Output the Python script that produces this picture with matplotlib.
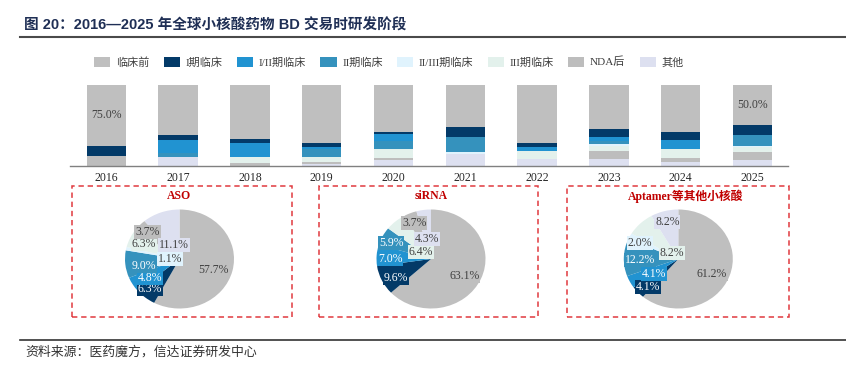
import numpy as np
import matplotlib
matplotlib.use("Agg")
import matplotlib.pyplot as plt
from matplotlib.patches import Rectangle
from matplotlib.lines import Line2D

# ---------------- data ----------------
years = ["2016", "2017", "2018", "2019", "2020", "2021", "2022", "2023", "2024", "2025"]
stages = ["临床前", "I期临床", "I/II期临床", "II期临床", "II/III期临床", "III期临床", "NDA后", "其他"]

preclinical = [75.0, 62.0, 66.9, 71.4, 57.7, 52.5, 72.2, 54.8, 57.7, 50.0]
phase1      = [12.5, 6.2, 5.4, 5.7, 2.9, 11.6, 4.2, 9.9, 10.3, 12.5]
phase1_2    = [0.0, 16.5, 17.3, 2.5, 8.3, 0.0, 5.0, 4.2, 11.2, 0.0]
phase2      = [0.0, 5.0, 0.0, 9.2, 10.3, 18.6, 0.0, 4.1, 0.0, 12.5]
phase2_3    = [0.0, 0.0, 0.0, 0.0, 0.0, 3.2, 0.0, 2.5, 0.0, 1.5]
phase3      = [0.0, 0.0, 7.4, 6.2, 10.8, 0.0, 10.3, 6.8, 10.8, 6.0]
post_nda    = [12.5, 0.0, 3.0, 2.9, 2.9, 0.0, 0.0, 9.0, 5.0, 10.5]
others      = [0.0, 10.3, 0.0, 2.1, 7.1, 14.1, 8.3, 8.7, 5.0, 7.0]
bar_series = [preclinical, phase1, phase1_2, phase2, phase2_3, phase3, post_nda, others]
labeled_years = ["2016", "2025"]

pie_titles = ["ASO", "siRNA", "Aptamer等其他小核酸"]
aso_share     = [57.7, 6.3, 4.8, 9.0, 1.1, 6.3, 3.7, 11.1]
sirna_share   = [63.1, 9.6, 7.0, 5.9, 0.0, 6.4, 3.7, 4.3]
aptamer_share = [61.2, 4.1, 4.1, 12.2, 2.0, 8.2, 0.0, 8.2]
pie_series = [aso_share, sirna_share, aptamer_share]

title = "图 20：2016—2025 年全球小核酸药物 BD 交易时研发阶段"
source = "资料来源：医药魔方，信达证券研发中心"

# ---------------- style ----------------
colors = ["#BFBFBF", "#033A68", "#2193D1", "#3592BD", "#E0F3FD", "#E3F1EC", "#BDBDBD", "#DDE0F0"]
text_on = ["#404040", "white", "white", "white", "#404040", "#404040", "#404040", "#404040"]
SERIF = ["Liberation Serif", "Noto Sans CJK SC"]
SANS = ["Liberation Sans", "Noto Sans CJK SC"]

W, H = 846, 367
fig = plt.figure(figsize=(W / 100, H / 100), dpi=100)


def ax_px(l, t, r, b):
    return fig.add_axes([l / W, 1 - b / H, (r - l) / W, (b - t) / H])


# title and rules
fig.text(24 / W, 1 - 25 / H, title, fontsize=10.5, fontweight="bold", color="#1F2F55",
         family=SANS, va="center", ha="left")
fig.add_artist(Line2D([20 / W, 1], [1 - 37 / H] * 2, color="#4a4a4a", lw=1.5))
fig.add_artist(Line2D([20 / W, 1], [1 - 340 / H] * 2, color="#333333", lw=1.2))
fig.text(25 / W, 1 - 352 / H, source, fontsize=9.3, style="italic", color="#333333",
         family=["Noto Sans CJK SC"], va="center", ha="left")

# ---------------- stacked bars ----------------
ax = ax_px(70.4, 85, 788.3, 165.7)
x = np.arange(len(years))
bottom = np.zeros(len(years))
handles = {}
for i in reversed(range(len(stages))):
    vals = np.array(bar_series[i])
    h = ax.bar(x, vals, width=0.55, bottom=bottom, color=colors[i], linewidth=0, label=stages[i])
    handles[stages[i]] = h
    if i == 0:
        for j, y in enumerate(years):
            if y in labeled_years:
                ax.text(x[j], bottom[j] + vals[j] / 2, f"{vals[j]:.1f}%", ha="center", va="center",
                        fontsize=8.5, color="#404040", family=SERIF)
    bottom += vals
ax.set_xlim(-0.5, len(years) - 0.5)
ax.set_ylim(0, 100)
ax.set_yticks([])
ax.set_xticks(x)
ax.set_xticklabels(years, fontsize=8.5, family=SERIF, color="#262626")
ax.tick_params(axis="x", length=0, pad=4.5)
for s in ["top", "left", "right"]:
    ax.spines[s].set_visible(False)
ax.spines["bottom"].set_color("#808080")
ax.spines["bottom"].set_linewidth(1.0)

leg = fig.legend([handles[s] for s in stages], stages, loc="center", ncol=8,
                 bbox_to_anchor=(389 / W, 1 - 62 / H), frameon=False,
                 prop={"family": SERIF, "size": 8}, handlelength=1.45, handleheight=1.05,
                 handletextpad=0.5, columnspacing=1.3, labelcolor="#404040")

# ---------------- pies ----------------
centers = [(179.5, 259), (431, 259), (678.3, 259)]
boxes = [(71.7, 292.3), (319, 538.3), (567.3, 789.3)]
title_x = [179, 431, 686]
label_offsets = [
    [(34, 11), (-29.5, 30.3), (-29.5, 19.3), (-35.5, 7), (-9.5, 0), (-35.5, -14.7), (-32, -27), (-5.5, -14)],
    [(33.3, 17), (-35, 19.3), (-41, 0), (-40, -15.7), None, (-10, -7.3), (-16.7, -35.7), (-4.3, -19.7)],
    [(33.4, 15.3), (-30, 28.3), (-24.3, 15), (-38.3, 1), (-38.3, -15.7), (-6.7, -5.7), None, (-11, -36.7)],
]
RX, RY = 54.5, 49.5
for k, shares in enumerate(pie_series):
    cx, cy = centers[k]
    pax = ax_px(cx - 75, cy - 58, cx + 75, cy + 58)
    pax.pie(shares, colors=colors, startangle=90, counterclock=False, radius=1,
            wedgeprops={"linewidth": 0})
    pax.set_aspect("auto")
    pax.set_xlim(-75 / RX, 75 / RX)
    pax.set_ylim(-58 / RY, 58 / RY)
    pax.axis("off")
    for i, v in enumerate(shares):
        off = label_offsets[k][i]
        if v <= 0 or off is None:
            continue
        pax.text(off[0] / RX, -off[1] / RY, f"{v:.1f}%", ha="center", va="center",
                 fontsize=8.5, family=SERIF, color=text_on[i],
                 bbox={"facecolor": colors[i], "edgecolor": "none", "pad": 0.6})
    bl, br = boxes[k]
    fig.add_artist(Rectangle((bl / W, 1 - 317 / H), (br - bl) / W, (317 - 186) / H,
                             transform=fig.transFigure, fill=False, ec="#E0393E",
                             lw=1.1, ls=(0, (3.5, 2.5))))
    fig.text(title_x[k] / W, 1 - 196 / H, pie_titles[k], ha="center", va="center",
             fontsize=8.5, fontweight="bold", color="#C00000", family=SERIF)

fig.savefig("out.png", dpi=100)
